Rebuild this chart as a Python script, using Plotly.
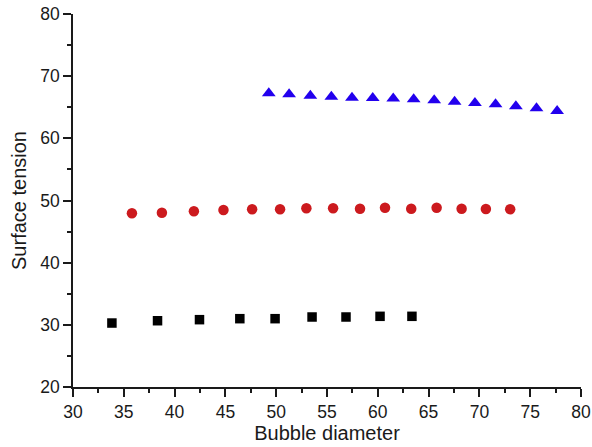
import plotly.graph_objects as go

sq_x = [33.83, 38.32, 42.45, 46.42, 49.89, 53.53, 56.87, 60.22, 63.36]
sq_y = [30.29, 30.66, 30.83, 30.99, 30.99, 31.26, 31.26, 31.37, 31.37]

ci_x = [35.80, 38.75, 41.90, 44.81, 47.63, 50.38, 52.97, 55.60, 58.25, 60.71, 63.29, 65.79, 68.25, 70.64, 73.03]
ci_y = [47.94, 48.04, 48.26, 48.47, 48.58, 48.58, 48.74, 48.74, 48.68, 48.84, 48.68, 48.84, 48.68, 48.63, 48.58]

tr_x = [49.27, 51.27, 53.36, 55.43, 57.46, 59.50, 61.52, 63.53, 65.55, 67.56, 69.56, 71.59, 73.59, 75.62, 77.65]
tr_y = [67.24, 67.08, 66.84, 66.68, 66.53, 66.48, 66.40, 66.28, 66.13, 65.89, 65.68, 65.47, 65.15, 64.83, 64.39]

fig = go.Figure()
fig.add_trace(go.Scatter(x=sq_x, y=sq_y, mode="markers",
                         marker=dict(symbol="square", size=9.5, color="#000000")))
fig.add_trace(go.Scatter(x=ci_x, y=ci_y, mode="markers",
                         marker=dict(symbol="circle", size=10.5, color="#cc1a1e")))
fig.add_trace(go.Scatter(x=tr_x, y=tr_y, mode="markers",
                         marker=dict(symbol="triangle-up", size=12, color="#2200ee")))

font_family = "Liberation Sans, Arial"
axis_common = dict(
    showline=True, linecolor="#1a1a1a", linewidth=1.5,
    ticks="outside", ticklen=8, tickwidth=1.5, tickcolor="#1a1a1a",
    showgrid=False, zeroline=False, automargin=False,
    tickfont=dict(family=font_family, size=17.5, color="#1a1a1a"),
)

fig.update_layout(
    width=592, height=447,
    margin=dict(l=73, r=11, t=14, b=60),
    plot_bgcolor="white", paper_bgcolor="white",
    showlegend=False,
    xaxis=dict(range=[30, 80], dtick=5, tick0=30,
               minor=dict(dtick=2.5, ticks="outside", ticklen=4, tickwidth=1.5, tickcolor="#1a1a1a"),
               title=dict(text="Bubble diameter", standoff=3,
                          font=dict(family=font_family, size=20, color="#1a1a1a")),
               **axis_common),
    yaxis=dict(range=[20, 80], dtick=10, tick0=20,
               minor=dict(dtick=5, ticks="outside", ticklen=4, tickwidth=1.5, tickcolor="#1a1a1a"),
               title=dict(text="Surface tension", standoff=8,
                          font=dict(family=font_family, size=20, color="#1a1a1a")),
               **axis_common),
)

fig.write_html("out.html", config={"displayModeBar": False},
               post_script="document.body.style.margin='0';document.body.style.padding='0';")
